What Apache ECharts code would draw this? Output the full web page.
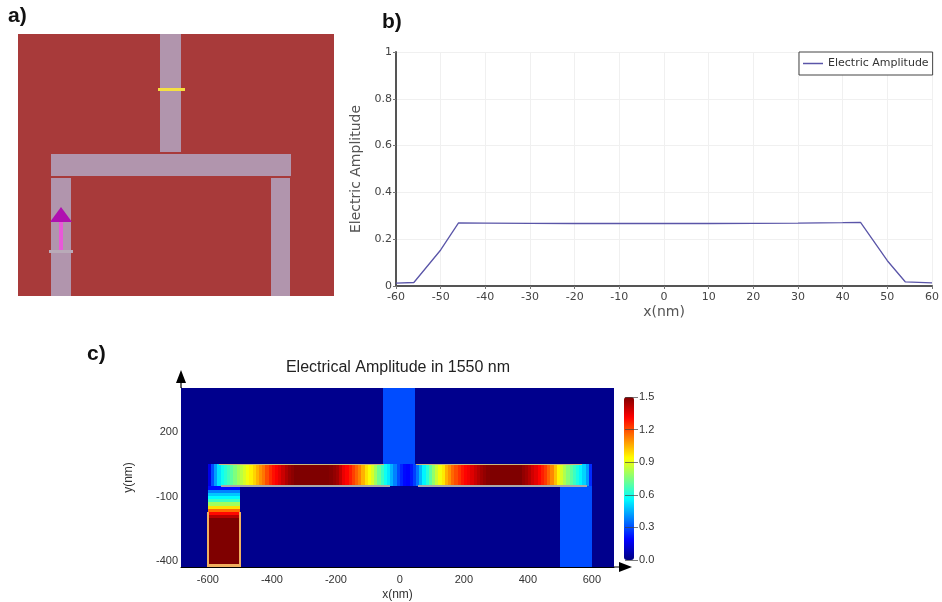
<!DOCTYPE html>
<html>
<head>
<meta charset="utf-8">
<style>html,body{margin:0;padding:0;background:#fff}#c{width:942px;height:602px}</style>
<script src="https://cdn.jsdelivr.net/npm/echarts@6/dist/echarts.min.js"></script>
</head>
<body>
<div id="c"></div>
<script>
// ---- panel a: device layout, nm [x0,x1,y0,y1]
var layoutWaveguides = [[-55,50,59,595],[-600,600,-50,50],[-600,-500,-595,-59],[500,595,-595,-59]];
var layoutMonitor = [[-65,70,338,352]];
var layoutSourcePlane = [[-610,-490,-398,-384]];
var layoutSourceStem = [[-558,-542,-386,-259]];
var layoutSourceHead = [[[-550,-191],[-605,-259],[-495,-259]]];

// ---- panel b: amplitude line
var lineX = [-60,-56,-50,-46,-40,-30,-20,-10,0,10,20,30,40,44,50,54,60];
var lineY = [0.012,0.015,0.154,0.270,0.269,0.268,0.267,0.267,0.267,0.267,0.268,0.269,0.271,0.272,0.108,0.018,0.013];
var lineXTicks = 10, lineYTicks = 0.2;

// ---- panel c: field map
var mapXLabels = [-600,-400,-200,0,200,400,600];
var mapYLabels = [200,-100,-400];
var barStartX = -600, barCellW = 10;
var barValues = [
 .15,.3,.42,.52,.58,.62,.66,.7,.75,.8,.84,.88,.92,.96,1.0,1.05,1.1,1.14,1.2,1.25,
 1.29,1.32,1.35,1.39,1.43,1.46,1.48,1.5,1.5,1.5,1.5,1.5,1.5,1.5,1.5,1.5,1.5,1.5,1.49,1.47,
 1.45,1.4,1.34,1.31,1.27,1.22,1.17,1.12,1.05,.98,.93,.88,.8,.72,.65,.58,.53,.45,.38,.3,
 .24,.2,.19,.22,.28,.36,.46,.55,.62,.7,.78,.86,.92,.97,1.05,1.1,1.16,1.2,1.24,1.28,
 1.31,1.33,1.36,1.39,1.42,1.45,1.47,1.49,1.5,1.5,1.5,1.5,1.5,1.5,1.5,1.5,1.5,1.5,1.47,1.45,
 1.42,1.38,1.35,1.31,1.27,1.23,1.17,1.11,1.03,.95,.88,.82,.76,.7,.65,.6,.55,.5,.42,.25];
var leftArmStartY = -52, leftArmCellH = 15;
var leftArmValues = [.2,.38,.48,.56,.65,.8,.98,1.15,1.3,1.42,1.5];
var leftArmSpan = [-600,-500], leftArmBottom = -428, leftArmFill = 1.5;
var quietCells = [[-684,669,-428,406,0.02],[-53,47,50,406,0.3],[500,600,-428,-50,0.3]];
var barTopEdge = [[-565,-50,47,53],[50,570,47,53]];
var barBottomEdge = [[-560,-30,-53,-47],[55,585,-53,-47]];
var armEdges = [[-604,-596,-428,-170],[-504,-496,-428,-170],[-600,-500,-428,-412]];
var barScaleTicks = [0,0.3,0.6,0.9,1.2,1.5];
var jet = ['#00007f','#0000ff','#007fff','#00ffff','#7fff7f','#ffff00','#ff7f00','#ff0000','#7f0000'];

// ---- build cells
var heatCells = quietCells.slice();
barValues.forEach(function(v,i){
  heatCells.push([barStartX+i*barCellW, barStartX+(i+1)*barCellW, -50, 50, v]);
});
leftArmValues.forEach(function(v,i){
  heatCells.push([leftArmSpan[0],leftArmSpan[1],leftArmStartY-(i+1)*leftArmCellH,leftArmStartY-i*leftArmCellH,v]);
});
heatCells.push([leftArmSpan[0],leftArmSpan[1],leftArmBottom,leftArmStartY-leftArmValues.length*leftArmCellH,leftArmFill]);

function rectShape(api){
  var a = api.coord([api.value(0),api.value(3)]);
  var b = api.coord([api.value(1),api.value(2)]);
  var x0=Math.round(a[0]),y0=Math.round(a[1]),x1=Math.round(b[0]),y1=Math.round(b[1]);
  return {x:x0,y:y0,width:Math.max(1,x1-x0),height:Math.max(1,y1-y0)};
}
function rects(name,data,color,gi,z){
  return {type:'custom',name:name,coordinateSystem:'cartesian2d',xAxisIndex:gi,yAxisIndex:gi,z:z||2,silent:true,
    data:data,clip:true,
    renderItem:function(p,api){return {type:'rect',shape:rectShape(api),style:{fill:color}};}};
}
var LS='"Liberation Sans",Arial,sans-serif', DJ='"DejaVu Sans",sans-serif';
var arrow='path://M5 0 L10 13 L5.6 13 L5.6 18 L4.4 18 L4.4 13 L0 13 Z';
var labelFont={fontFamily:LS,fontSize:21,fontWeight:'bold',color:'#111'};

var option = {
  animation:false,
  backgroundColor:'#fff',
  title:[
    {text:'a)',left:8,top:6,padding:0,textStyle:labelFont},
    {text:'b)',left:382,top:12,padding:0,textStyle:labelFont},
    {text:'c)',left:87,top:344,padding:0,textStyle:labelFont},
    {text:'Electrical Amplitude in 1550 nm',left:398,top:360,padding:0,textAlign:'center',textStyle:{fontFamily:LS,fontSize:16,fontWeight:'normal',color:'#222'}}
  ],
  legend:{data:['Electric Amplitude'],left:799,top:52,orient:'horizontal',icon:'rect',itemWidth:20,itemHeight:1.5,itemGap:0,
    padding:[6,4,6,4],borderColor:'#444',borderWidth:1,backgroundColor:'#fff',z:10,
    textStyle:{fontFamily:DJ,fontSize:11,color:'#333'}},
  grid:[
    {left:18,top:34,width:316,height:262,show:true,backgroundColor:'#a83a3a',borderWidth:0},
    {left:396,top:52,width:538,height:234},
    {left:181,top:388,width:433,height:182},
    {left:625,top:397,width:10,height:163}
  ],
  xAxis:[
    {gridIndex:0,type:'value',min:-765,max:815,show:false},
    {gridIndex:1,type:'value',min:-60,max:60,interval:lineXTicks,name:'x(nm)',nameLocation:'middle',nameGap:19,
      nameTextStyle:{fontFamily:DJ,fontSize:14,color:'#555'},
      axisLine:{onZero:false,lineStyle:{color:'#555',width:2}},axisTick:{show:true,length:3,lineStyle:{color:'#777'}},
      axisLabel:{fontFamily:DJ,fontSize:11,color:'#444',margin:6,showMinLabel:true,showMaxLabel:true},
      splitLine:{show:true,lineStyle:{color:'#f0f0f0'}}},
    {gridIndex:2,type:'value',min:-684,max:669,name:'x(nm)',nameLocation:'middle',nameGap:22,
      nameTextStyle:{fontFamily:LS,fontSize:12,color:'#333'},
      axisLine:{show:true,onZero:false,symbol:['none',arrow],symbolSize:[11,18],symbolOffset:[0,9],lineStyle:{color:'#000',width:1}},
      axisTick:{show:false},splitLine:{show:false},
      axisLabel:{customValues:mapXLabels,fontFamily:LS,fontSize:11,color:'#333',margin:7}},
    {gridIndex:3,type:'value',min:0,max:1,show:false}
  ],
  yAxis:[
    {gridIndex:0,type:'value',min:-595,max:595,show:false},
    {gridIndex:1,type:'value',min:0,max:1,interval:lineYTicks,name:'Electric Amplitude',nameLocation:'middle',nameGap:21,
      nameTextStyle:{fontFamily:DJ,fontSize:14,color:'#555'},
      axisLine:{show:true,onZero:false,lineStyle:{color:'#555',width:2}},axisTick:{show:true,length:3,lineStyle:{color:'#777'}},
      axisLabel:{fontFamily:DJ,fontSize:11,color:'#444',margin:4,showMinLabel:true,showMaxLabel:true},
      splitLine:{show:true,lineStyle:{color:'#f0f0f0'}}},
    {gridIndex:2,type:'value',min:-428,max:406,name:'y(nm)',nameLocation:'middle',nameGap:46,
      nameTextStyle:{fontFamily:LS,fontSize:12,color:'#333'},
      axisLine:{show:true,onZero:false,symbol:['none',arrow],symbolSize:[11,18],symbolOffset:[0,9],lineStyle:{color:'#000',width:1}},
      axisTick:{show:false},splitLine:{show:false},
      axisLabel:{customValues:mapYLabels,fontFamily:LS,fontSize:11,color:'#333',margin:3}},
    {gridIndex:3,type:'value',min:0,max:1.5,position:'left',z:6,
      axisLine:{show:false},axisTick:{show:true,inside:true,length:13,customValues:barScaleTicks,lineStyle:{color:'#444',opacity:.7}},
      splitLine:{show:false},
      axisLabel:{customValues:barScaleTicks,inside:true,margin:14,fontFamily:LS,fontSize:11,color:'#333',
        formatter:function(v){return v.toFixed(1);}}}
  ],
  visualMap:[{type:'continuous',seriesIndex:[5],dimension:4,min:0,max:1.5,left:624,top:397,itemWidth:10,itemHeight:163,
    padding:0,calculable:false,hoverLink:false,inRange:{color:jet},textStyle:{fontSize:0},text:null}],
  series:[
    rects('layout-waveguides',layoutWaveguides,'#b195ad',0,2),
    rects('layout-monitor',layoutMonitor,'#f5e040',0,3),
    rects('layout-plane',layoutSourcePlane,'#b9aab8',0,3),
    rects('layout-stem',layoutSourceStem,'#e858d8',0,4),
    {type:'custom',name:'layout-head',coordinateSystem:'cartesian2d',xAxisIndex:0,yAxisIndex:0,z:5,silent:true,
      data:layoutSourceHead.map(function(t){return t[0].concat(t[1],t[2]);}),
      renderItem:function(p,api){
        var pts=[0,2,4].map(function(i){return api.coord([api.value(i),api.value(i+1)]);});
        return {type:'polygon',shape:{points:pts},style:{fill:'#b010b0'}};
      }},
    {type:'custom',name:'field',coordinateSystem:'cartesian2d',xAxisIndex:2,yAxisIndex:2,z:2,silent:true,
      data:heatCells,encode:{x:[0,1],y:[2,3]},
      renderItem:function(p,api){return {type:'rect',shape:rectShape(api),style:{fill:api.visual('color')}};}},
    rects('bar-top',barTopEdge,'#c9b87a',2,3),
    rects('bar-bottom',barBottomEdge,'#a9a9a9',2,3),
    rects('arm-edges',armEdges,'#f0b060',2,3),
    {type:'line',name:'Electric Amplitude',xAxisIndex:1,yAxisIndex:1,showSymbol:false,symbol:'none',
      data:lineX.map(function(x,i){return [x,lineY[i]];}),
      lineStyle:{color:'#5a55a8',width:1.3},itemStyle:{color:'#5a55a8'}}
  ]
};
echarts.init(document.getElementById('c'),null,{renderer:'canvas'}).setOption(option);
</script>
</body>
</html>
